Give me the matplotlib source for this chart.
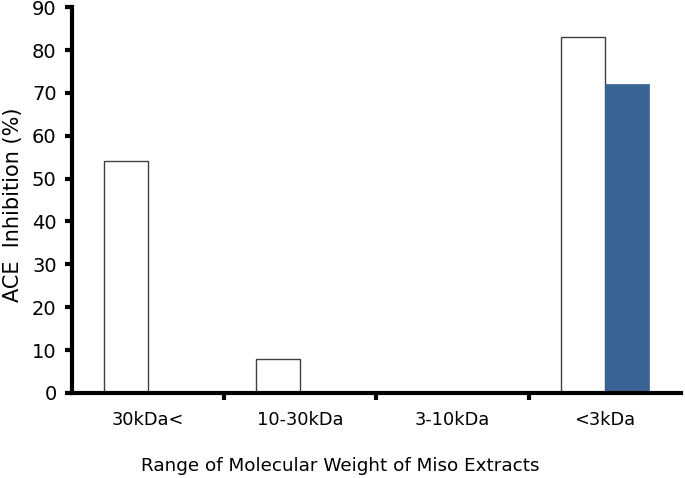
import matplotlib
matplotlib.use("Agg")
import matplotlib.pyplot as plt
import numpy as np

categories = ["30kDa<", "10-30kDa", "3-10kDa", "<3kDa"]
white_values = [54, 8, 0, 83]
blue_values = [0, 0, 0, 72]
yticks = [0, 10, 20, 30, 40, 50, 60, 70, 80, 90]

plt.rcParams['font.family'] = ['DejaVu Sans']
fig = plt.figure(figsize=(6.85, 4.78), dpi=100)
ax = fig.add_axes([0.105, 0.178, 0.889, 0.807])

x = np.arange(len(categories))
w = 0.289
ax.bar(x - w/2, white_values, width=w, color='white', edgecolor='#404040', linewidth=1.0, zorder=2)
ax.bar(x + w/2, blue_values, width=w, color='#3A6395', edgecolor='#3A6395', linewidth=0.5, zorder=2)

ax.set_xlim(-0.5, 3.5)
ax.set_ylim(0, 90)
ax.set_yticks(yticks)
ax.set_xticks(x)
ax.set_xticklabels(categories, fontsize=12.8)
ax.set_xticks(np.arange(0.5, 3.5, 1), minor=True)
ax.tick_params(axis='x', which='major', length=0, pad=13)
ax.tick_params(axis='x', which='minor', length=5, width=3, direction='out')
ax.tick_params(axis='y', length=5, width=3, direction='out', labelsize=14, pad=6)

for s in ['top', 'right']:
    ax.spines[s].set_visible(False)
ax.spines['left'].set_linewidth(3)
ax.spines['bottom'].set_linewidth(3)

fig.text(0.019, 0.571, "ACE  Inhibition (%)", fontsize=15, rotation=90, ha='center', va='center')
fig.text(0.497, 0.025, "Range of Molecular Weight of Miso Extracts", fontsize=13.2, ha='center', va='center')

fig.savefig("out.png", dpi=100)
